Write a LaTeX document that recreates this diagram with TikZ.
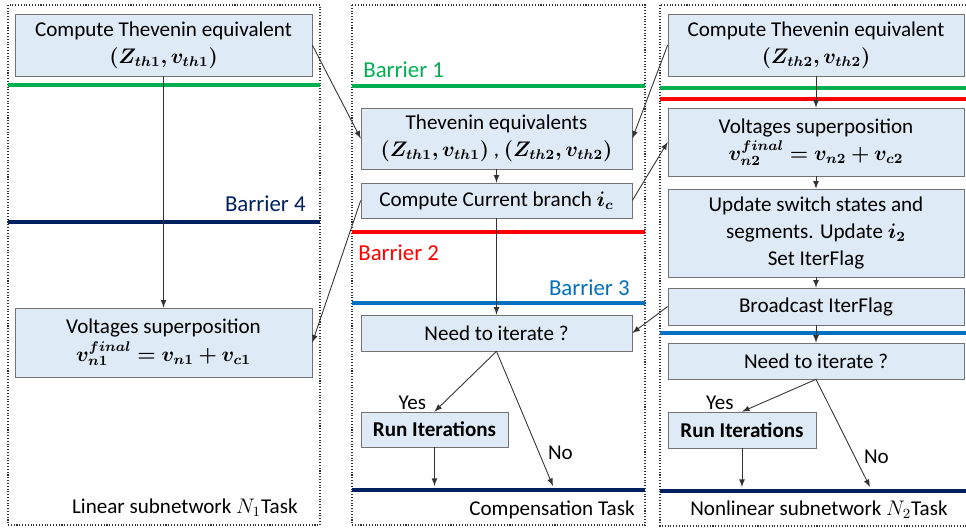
\documentclass[tikz,border=0pt]{standalone}
\usepackage{fontspec}
\setmainfont{Carlito}
\usepackage{bm}
\usetikzlibrary{arrows}
\definecolor{boxfill}{HTML}{DEEAF6}
\definecolor{bgreen}{HTML}{00B050}
\definecolor{bnavy}{HTML}{002060}
\definecolor{bred}{HTML}{FF0000}
\definecolor{bblue}{HTML}{0070C0}
\tikzset{
  blk/.style={draw=gray!90!black, fill=boxfill, align=center, inner sep=2pt,
    font=\fontsize{12}{15.5}\selectfont},
  frame/.style={draw=black!80, densely dotted, line width=0.6pt},
  barrier/.style={line width=2.8pt},
  blab/.style={font=\fontsize{13}{15}\selectfont, inner sep=0pt},
  lab/.style={font=\fontsize{12}{14}\selectfont, inner sep=0pt},
  flow/.style={->, >=latex, draw=black!80, line width=0.5pt}
}
\begin{document}
\begin{tikzpicture}[x=0.02cm,y=-0.02cm]
      \useasboundingbox (0,0) rectangle (966,528);
      % task frames
      \draw[frame] (8,5) rectangle (320,525);
      \draw[frame] (352,5) rectangle (645,525);
      \draw[frame] (660,5) rectangle (975,526);
      % barriers
      \draw[barrier, bgreen] (8,85) -- (320,85);
      \draw[barrier, bgreen] (352,86) -- (645,86);
      \draw[barrier, bgreen] (660,88) -- (966,88);
      \draw[barrier, bred] (660,99) -- (966,99);
      \draw[barrier, bnavy] (8,222) -- (320,222);
      \draw[barrier, bred] (352,232) -- (645,232);
      \draw[barrier, bblue] (352,303) -- (645,303);
      \draw[barrier, bblue] (660,333) -- (966,333);
      \draw[barrier, bnavy] (352,490) -- (645,490);
      \draw[barrier, bnavy] (660,491) -- (966,491);
      \node[blab, text=bgreen, anchor=west] (B1) at (363,70) {Barrier 1};
      \node[blab, text=bred, anchor=west] (B2) at (358,253) {Barrier 2};
      \node[blab, text=bblue, anchor=east] (B3) at (630,288) {Barrier 3};
      \node[blab, text=bnavy, anchor=east] (B4) at (306,204) {Barrier 4};
      % linear subnetwork
      \node[blk, minimum width=5.94cm, minimum height=1.24cm] (thL) at (163.5,45)
        {Compute Thevenin equivalent\\ $\bm{(Z_{th1},v_{th1})}$};
      \node[blk, minimum width=5.94cm, minimum height=1.38cm] (vsL) at (163.5,342.5)
        {Voltages superposition\\ $\bm{v_{n1}^{final}=v_{n1}+v_{c1}}$};
      % compensation
      \node[blk, minimum width=5.42cm, minimum height=1.22cm] (thM) at (496.5,138.5)
        {Thevenin equivalents\\ $\bm{(Z_{th1},v_{th1})}$ , $\bm{(Z_{th2},v_{th2})}$};
      \node[blk, minimum width=5.42cm, minimum height=0.70cm] (icM) at (496.5,200.5)
        {Compute Current branch $\bm{i_c}$};
      \node[blk, minimum width=5.42cm, minimum height=0.72cm] (itM) at (496.5,333)
        {Need to iterate ?};
      \node[blk, minimum width=2.94cm, minimum height=0.70cm] (runM) at (434.5,429.5)
        {\textbf{Run Iterations}};
      % nonlinear subnetwork
      \node[blk, minimum width=5.92cm, minimum height=1.24cm] (thR) at (816,45)
        {Compute Thevenin equivalent\\ $\bm{(Z_{th2},v_{th2})}$};
      \node[blk, minimum width=5.92cm, minimum height=1.36cm] (vsR) at (816,142)
        {Voltages superposition\\ $\bm{v_{n2}^{final}=v_{n2}+v_{c2}}$};
      \node[blk, minimum width=5.92cm, minimum height=1.76cm] (upR) at (816,233)
        {Update switch states and\\ segments. Update $\bm{i_2}$\\ Set IterFlag};
      \node[blk, minimum width=5.92cm, minimum height=0.74cm] (bcR) at (816,306.5)
        {Broadcast IterFlag};
      \node[blk, minimum width=5.92cm, minimum height=0.72cm] (itR) at (816,361)
        {Need to iterate ?};
      \node[blk, minimum width=2.96cm, minimum height=0.72cm] (runR) at (742,430)
        {\textbf{Run Iterations}};
      % task names
      \node[lab, anchor=east] (tL) at (298,508) {Linear subnetwork $N_1$Task};
      \node[lab, anchor=east] (tM) at (635,510) {Compensation Task};
      \node[lab, anchor=east] (tR) at (948,510) {Nonlinear subnetwork $N_2$Task};
      % free ends on the last barriers
      \coordinate (noM) at (553,486);
      \coordinate (doneM) at (434.5,486);
      \coordinate (noR) at (870,487);
      \coordinate (doneR) at (742,487);
      % flow
      \draw[flow] (thL) -- (vsL);
      \draw[flow] (thM) -- (icM);
      \draw[flow] (icM) -- (itM);
      \draw[flow] (itM.south) -- node[lab, pos=1, anchor=south east, xshift=-4.5pt, yshift=1pt] {Yes} (runM.north);
      \draw[flow] (itM.south) -- node[lab, pos=0.75, right=5pt] {No} (noM);
      \draw[flow] (runM) -- (doneM);
      \draw[flow] (thR) -- (vsR);
      \draw[flow] (vsR) -- (upR);
      \draw[flow] (upR) -- (bcR);
      \draw[flow] (bcR) -- (itR);
      \draw[flow] (itR.south) -- node[lab, pos=1, anchor=south east, xshift=-4.5pt, yshift=1pt] {Yes} (runR.north);
      \draw[flow] (itR.south) -- node[lab, pos=0.72, right=5pt] {No} (noR);
      \draw[flow] (runR) -- (doneR);
      % between tasks
      \draw[flow] (thL.east) -- (thM.west);
      \draw[flow] (thR.west) -- (thM.east);
      \draw[flow] (icM.west) -- (vsL.east);
      \draw[flow] (icM.east) -- (vsR.west);
      \draw[flow] (bcR.west) -- (itM.east);
    \end{tikzpicture}
\end{document}
